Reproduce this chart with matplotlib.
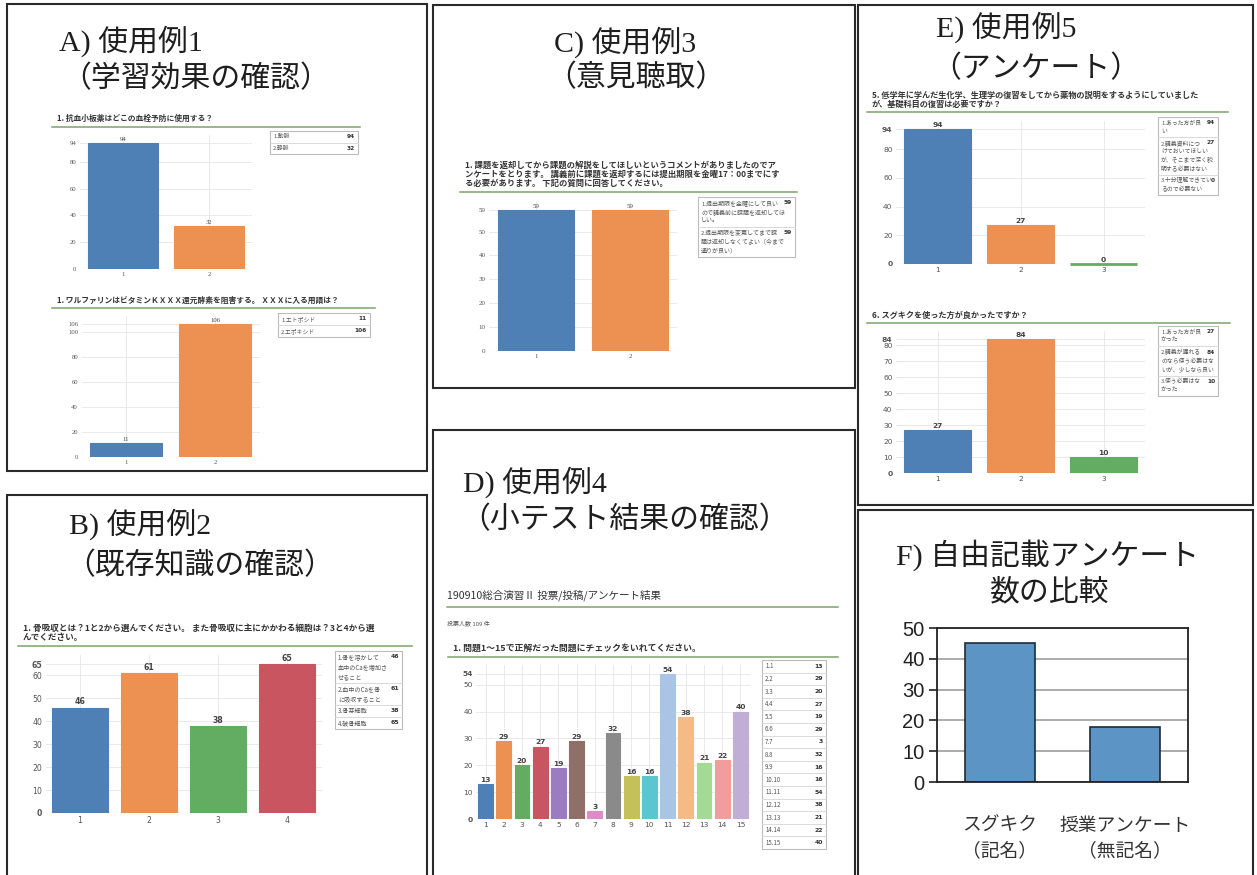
import numpy as np
import matplotlib
matplotlib.use("Agg")
import matplotlib.pyplot as plt
from matplotlib.patches import Rectangle
from matplotlib.lines import Line2D

W, H = 1257, 875
JP = ["Noto Sans CJK JP", "DejaVu Sans"]
HEAD = ["Liberation Serif", "Noto Sans CJK JP"]

# --- survey results -------------------------------------------------------
a1_question = "1. 抗血小板薬はどこの血栓予防に使用する？"
a1_choices = [["1.動脈"], ["2.静脈"]]
a1_counts = [94, 32]

a2_question = "1. ワルファリンはビタミンＫＸＸＸ還元酵素を阻害する。 ＸＸＸに入る用語は？"
a2_choices = [["1.エトポシド"], ["2.エポキシド"]]
a2_counts = [11, 106]

b_question = ["1. 骨吸収とは？1と2から選んでください。 また骨吸収に主にかかわる細胞は？3と4から選",
              "んでください。"]
b_choices = [["1.骨を溶かして", "血中のCaを増加さ", "せること"],
             ["2.血中のCaを骨", "に吸収すること"],
             ["3.骨芽細胞"],
             ["4.破骨細胞"]]
b_counts = [46, 61, 38, 65]

c_question = ["1. 課題を返却してから課題の解説をしてほしいというコメントがありましたのでア",
              "ンケートをとります。 講義前に課題を返却するには提出期限を金曜17：00までにす",
              "る必要があります。 下記の質問に回答してください。"]
c_choices = [["1.提出期限を金曜にして良い", "ので講義前に課題を返却してほ", "しい。"],
             ["2.提出期限を変更してまで課", "題は返却しなくてよい（今まで", "通りが良い）"]]
c_counts = [59, 59]

d_header = "190910総合演習Ⅱ 投票/投稿/アンケート結果"
d_voters = "投票人数 109 件"
d_question = "1. 問題1～15で正解だった問題にチェックをいれてください。"
d_items = list(range(1, 16))
d_counts = [13, 29, 20, 27, 19, 29, 3, 32, 16, 16, 54, 38, 21, 22, 40]

e1_question = ["5. 低学年に学んだ生化学、生理学の復習をしてから薬物の説明をするようにしていました",
               "が、基礎科目の復習は必要ですか？"]
e1_choices = [["1.あった方が良", "い"],
              ["2.講義資料につ", "けておいてほしい", "が、そこまで深く説", "明する必要はない"],
              ["3.十分理解できてい", "るので必要ない"]]
e1_counts = [94, 27, 0]

e2_question = "6. スグキクを使った方が良かったですか？"
e2_choices = [["1.あった方が良", "かった"],
              ["2.講義が遅れる", "のなら使う必要はな", "いが、少しなら良い"],
              ["3.使う必要はな", "かった"]]
e2_counts = [27, 84, 10]

f_labels = ["スグキク\n（記名）", "授業アンケート\n（無記名）"]
f_counts = [45, 18]

headings = {
    "A": ("A) 使用例1", "（学習効果の確認）"),
    "B": ("B) 使用例2", "（既存知識の確認）"),
    "C": ("C) 使用例3", "（意見聴取）"),
    "D": ("D) 使用例4", "（小テスト結果の確認）"),
    "E": ("E) 使用例5", "（アンケート）"),
    "F": ("F) 自由記載アンケート", "数の比較"),
}

PALETTE = ["#4f80b5", "#ec9152", "#62ad62", "#c95560", "#9a7cc0", "#8f6f68",
           "#de8cc8", "#8a8a8a", "#c4c15a", "#5cc6d0", "#aac4e6", "#f5bb86",
           "#a3da94", "#f19c9d", "#c0aed6"]
RULE = "#7aa36a"

fig = plt.figure(figsize=(W / 100, H / 100), dpi=100)


def fx(x):
    return x / W


def fy(y):
    return 1 - y / H


def put(x, y, s, **kw):
    kw.setdefault("family", JP)
    return fig.text(fx(x), fy(y), s, **kw)


def hline(x0, x1, y, color, lw):
    fig.add_artist(Line2D([fx(x0), fx(x1)], [fy(y), fy(y)],
                          transform=fig.transFigure, color=color, lw=lw))


def box(x0, y0, x1, y1, ec, lw):
    fig.add_artist(Rectangle((fx(x0), fy(y1)), (x1 - x0) / W, (y1 - y0) / H,
                             transform=fig.transFigure, fill=False, ec=ec, lw=lw))


def question(x, y, lines, fs, x1, rule_y):
    if isinstance(lines, str):
        lines = [lines]
    for i, ln in enumerate(lines):
        put(x, y + i * fs * 1.55, ln, fontsize=fs, fontweight="bold",
            va="center", color="#333333")
    hline(x - 5, x1, rule_y, RULE, 1.1)


def survey(x0, x1, y_zero, y_top, counts, step, serif=False, fs=5.0):
    n = len(counts)
    vmax = max(counts)
    head = 1.06
    ax = fig.add_axes([fx(x0), fy(y_zero), (x1 - x0) / W,
                       (y_zero - y_top) * head / H])
    pos = np.arange(1, n + 1)
    colors = PALETTE[:n]
    ax.bar(pos, counts, width=0.81, color=colors, edgecolor=colors,
           linewidth=0.8, zorder=2)
    # empty answers still show as a flat coloured line
    for p, v, c in zip(pos, counts, colors):
        if v == 0:
            ax.hlines(v, p - 0.405, p + 0.405, color=c, lw=2.0, zorder=3,
                      clip_on=False)
    ax.set_xlim(0.5, n + 0.5)
    ax.set_ylim(0, vmax * head)
    ticks = list(range(0, vmax, step))
    if ticks[-1] != vmax:
        ticks.append(vmax)
    ax.set_yticks(ticks)
    ax.set_xticks(pos)
    ax.set_xticklabels([str(p) for p in pos])
    for s in ax.spines.values():
        s.set_visible(False)
    ax.grid(True, color="#e6e6e6", lw=0.6)
    ax.set_axisbelow(True)
    ax.axhline(0, color="#d6d6d6", lw=0.8, zorder=1)
    family = "Liberation Serif" if serif else "DejaVu Sans"
    ax.tick_params(length=0, pad=2.5, labelsize=fs, colors="#555555")
    for lab in ax.get_xticklabels() + ax.get_yticklabels():
        lab.set_family(family)
    if not serif:
        ylabs = ax.get_yticklabels()
        ylabs[0].set_fontweight("bold")
        ylabs[-1].set_fontweight("bold")
    for p, v in zip(pos, counts):
        ax.text(p, v + vmax * 0.008, str(v), ha="center", va="bottom",
                fontsize=fs, family=family, color="#444444",
                fontweight="normal" if serif else "bold")
    return ax


def answers(x0, x1, y0, choices, counts, fs, line_h, pad=1.5):
    y = y0
    for i, (lines, v) in enumerate(zip(choices, counts)):
        for j, ln in enumerate(lines):
            put(x0 + 3, y + pad + line_h * (j + 0.5), ln, fontsize=fs,
                va="center", color="#555555")
        put(x1 - 3, y + pad + line_h * 0.5, str(v), fontsize=fs,
            fontweight="bold", ha="right", va="center", color="#333333",
            family="DejaVu Sans")
        y += len(lines) * line_h + 2 * pad
        if i < len(choices) - 1:
            hline(x0, x1, y, "#d4d4d4", 0.6)
    box(x0, y0, x1, y, "#bcbcbc", 0.8)


def heading(key, c1, y1, c2, y2):
    l1, l2 = headings[key]
    put(c1, y1, l1, family=HEAD, fontsize=21.5, ha="center", va="center", color="#1e1e1e")
    put(c2, y2, l2, family=HEAD, fontsize=21.5, ha="center", va="center", color="#1e1e1e")


# panel frames
for x0, y0, x1, y1 in [(7, 4, 427, 471), (7, 495, 427, 880),
                       (433, 5, 855, 388), (433, 430, 855, 880),
                       (858, 5, 1253, 505), (858, 510, 1253, 880)]:
    box(x0, y0, x1, y1, "#2a2a2a", 1.5)

# A) two quiz questions
heading("A", 131, 41, 196, 79)
question(57, 118, a1_question, 5.6, 360, 127)
survey(80, 252, 269, 143, a1_counts, 20, serif=True, fs=4.8)
answers(270, 358, 131, a1_choices, a1_counts, 4.2, 8.5, pad=1.5)

question(57, 300, a2_question, 5.6, 375, 308)
survey(81.5, 259.5, 457, 324, a2_counts, 20, serif=True, fs=4.8)
answers(278, 370, 313, a2_choices, a2_counts, 4.2, 9, pad=1.5)

# B) prior knowledge check
heading("B", 140, 524, 200, 566)
question(23, 628, b_question, 6.2, 412, 646)
survey(45.5, 321.5, 813, 664, b_counts, 10, fs=5.6)
answers(335, 402, 651, b_choices, b_counts, 4.4, 10, pad=1.0)

# C) opinion poll
heading("C", 625, 42, 636, 78)
question(465, 165, c_question, 6.0, 797, 192)
survey(489, 677, 351, 210, c_counts, 10, serif=True, fs=5.0)
answers(698, 795, 197, c_choices, c_counts, 4.3, 9, pad=1.4)

# D) small test results
heading("D", 535, 482, 625, 520)
put(447, 595, d_header, fontsize=7.6, va="center", color="#333333")
hline(447, 838, 607, RULE, 1.1)
put(447, 623, d_voters, fontsize=4.3, va="center", color="#555555")
question(453, 648, d_question, 6.4, 838, 657)
survey(476.4, 749.6, 819, 674, d_counts, 10, fs=5.4)
answers(762, 826, 660, [[f"{i}.{i}"] for i in d_items], d_counts, 4.4, 9.2, pad=1.7)

# E) questionnaire
heading("E", 1006, 27, 1036, 69)
question(872, 95, e1_question, 5.9, 1228, 112)
survey(896, 1145, 264, 129, e1_counts, 20, fs=5.4)
answers(1158, 1218, 117, e1_choices, e1_counts, 4.2, 8.8, pad=1.3)

question(872, 315, e2_question, 5.9, 1230, 323)
survey(896, 1145, 473, 339, e2_counts, 10, fs=5.4)
answers(1158, 1218, 326, e2_choices, e2_counts, 4.2, 8.8, pad=1.4)

# F) number of free-text comments
heading("F", 1048, 555, 1050, 593)
ax = fig.add_axes([fx(937), fy(782), (1188 - 937) / W, (782 - 628) / H])
ax.bar(range(len(f_counts)), f_counts, width=0.56, color="#5b94c5",
       edgecolor="#1e2b38", linewidth=1.2, zorder=2)
ax.set_xlim(-0.5, 1.5)
ax.set_ylim(0, 50)
ax.set_yticks(range(0, 51, 10))
ax.yaxis.grid(True, color="#a5a5a5", lw=1.3)
ax.set_axisbelow(True)
for s in ax.spines.values():
    s.set_color("#222222")
    s.set_linewidth(1.3)
ax.tick_params(axis="y", length=6, width=1.2, pad=3, labelsize=14.5,
               colors="#222222")
for lab in ax.get_yticklabels():
    lab.set_family("Liberation Sans")
ax.set_xticks(range(len(f_labels)))
ax.set_xticklabels(f_labels, family=JP, fontsize=13.5, color="#333333",
                   linespacing=1.25)
ax.tick_params(axis="x", length=0, pad=24)

fig.savefig("out.png", dpi=100)
